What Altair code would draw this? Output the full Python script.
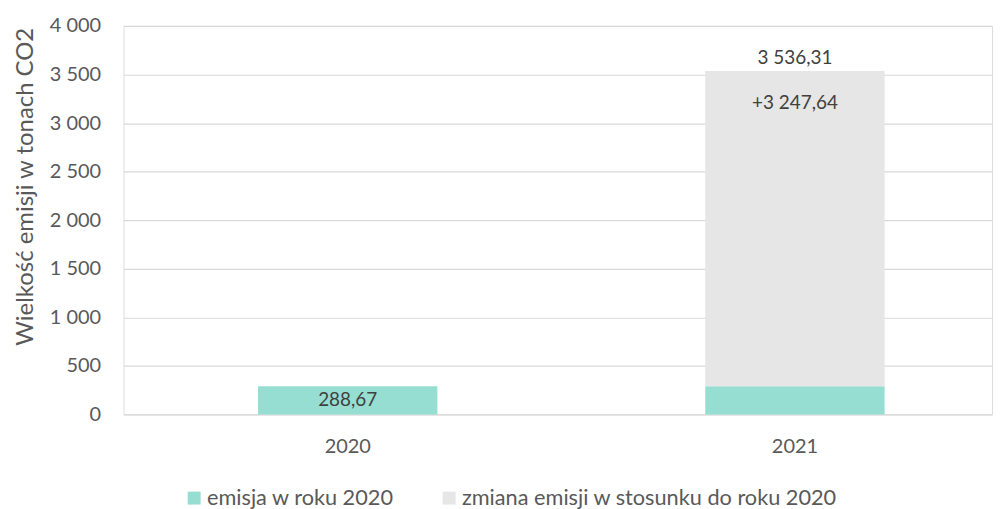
import altair as alt
import pandas as pd

years = ["2020", "2021"]
base_2020 = [288.67, 288.67]
change = [0.0, 3247.64]
totals = [288.67, 3536.31]
series = ["emisja w roku 2020", "zmiana emisji w stosunku do roku 2020"]
colors = ["#96DED1", "#E6E6E6"]

rows = []
for i, y in enumerate(years):
    rows.append({"rok": y, "seria": series[0], "wartosc": base_2020[i], "ord": 0})
    rows.append({"rok": y, "seria": series[1], "wartosc": change[i], "ord": 1})
df = pd.DataFrame(rows)

lab_base = pd.DataFrame({"rok": ["2020"], "y": [base_2020[0] / 2], "t": ["288,67"]})
lab_change = pd.DataFrame({"rok": ["2021"], "y": [totals[1]], "t": ["+3 247,64"]})
lab_total = pd.DataFrame({"rok": ["2021"], "y": [totals[1]], "t": ["3 536,31"]})

FONT = "Lato"
xscale = alt.Scale(paddingInner=0.599, paddingOuter=0.2705, align=0.556)
xenc = alt.X("rok:N", scale=xscale, title=None,
             axis=alt.Axis(labelAngle=0, ticks=False, domain=False, labelPadding=22,
                           labelFontSize=20, labelColor="#595959", labelFont=FONT, grid=False))

bars = alt.Chart(df).mark_bar().encode(
    x=xenc,
    y=alt.Y("wartosc:Q", stack="zero",
            scale=alt.Scale(domain=[0, 4000], nice=False),
            title="Wielkość emisji w tonach CO2",
            axis=alt.Axis(values=list(range(0, 4001, 500)), ticks=False, domain=False,
                          labelExpr="replace(format(datum.value, ','), ',', ' ')",
                          labelFontSize=20, labelColor="#595959", labelFont=FONT,
                          labelPadding=23, titleFontSize=24, titleColor="#595959",
                          titleFont=FONT, titleFontWeight="normal", titlePadding=12,
                          titleY=161,
                          gridColor="#D9D9D9", gridWidth=1.2)),
    color=alt.Color("seria:N", scale=alt.Scale(domain=series, range=colors),
                    sort=series,
                    legend=alt.Legend(orient="none", direction="horizontal",
                                      legendX=60, legendY=463, title=None,
                                      symbolType="square",
                                      symbolSize=169, symbolStrokeWidth=0,
                                      labelFontSize=21.8, labelColor="#595959", labelFont=FONT,
                                      labelOffset=2,
                                      columnPadding=44, labelLimit=600)),
    order=alt.Order("ord:Q"),
)

t1 = alt.Chart(lab_base).mark_text(fontSize=19, color="#404040", font=FONT, baseline="middle").encode(
    x=alt.X("rok:N", scale=xscale), y=alt.Y("y:Q"), text="t:N")
t2 = alt.Chart(lab_change).mark_text(fontSize=19, color="#404040", font=FONT, baseline="middle", dy=32).encode(
    x=alt.X("rok:N", scale=xscale), y=alt.Y("y:Q"), text="t:N")
t3 = alt.Chart(lab_total).mark_text(fontSize=19, color="#404040", font=FONT, baseline="middle", dy=-13).encode(
    x=alt.X("rok:N", scale=xscale), y=alt.Y("y:Q"), text="t:N")

chart = alt.layer(bars, t1, t2, t3).properties(
    width=872, height=390,
    padding={"left": 5, "top": 7, "right": 5, "bottom": 5},
).configure_view(strokeWidth=0).configure(background="white")

chart.save("out.html", embed_options={"renderer": "svg", "actions": False})
